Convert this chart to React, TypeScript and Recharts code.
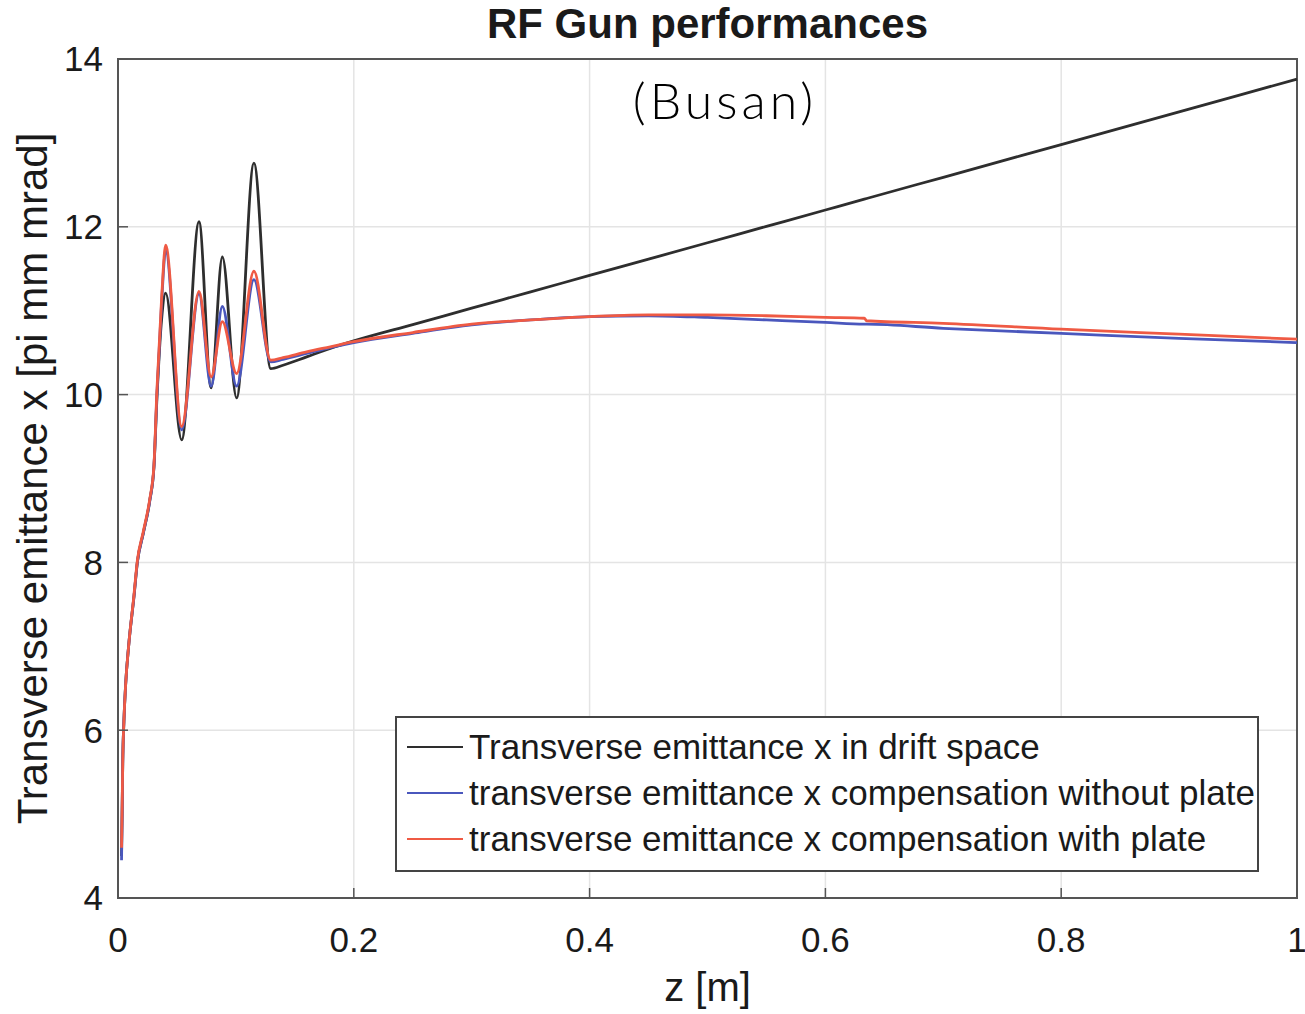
import React from "react";
import { LineChart, Line, XAxis, YAxis, CartesianGrid, ReferenceArea, Label } from "recharts";

const zValues = [0.003, 0.0035, 0.004, 0.005, 0.0065, 0.009, 0.0136, 0.0164, 0.0215, 0.027, 0.0305, 0.033, 0.037, 0.0404, 0.054, 0.0687, 0.079, 0.0885, 0.1006, 0.1153, 0.1295, 0.14, 0.16, 0.18, 0.2, 0.25, 0.3, 0.35, 0.4, 0.45, 0.5, 0.55, 0.6, 0.633, 0.635, 0.7, 0.8, 0.9, 1.0];
const driftSpace = [4.5, 5.0, 5.6, 6.1, 6.55, 7.0, 7.6, 8.0, 8.35, 8.74, 9.14, 9.95, 10.9, 11.21, 9.46, 12.06, 10.08, 11.64, 9.96, 12.76, 10.31, 10.35, 10.45, 10.55, 10.64, 10.835, 11.03, 11.225, 11.42, 11.615, 11.81, 12.005, 12.2, 12.329, 12.337, 12.59, 12.98, 13.37, 13.76];
const withoutPlate = [4.45, 5.0, 5.6, 6.1, 6.55, 7.0, 7.6, 8.0, 8.35, 8.74, 9.14, 10.0, 11.1, 11.72, 9.58, 11.2, 10.1, 11.05, 10.1, 11.37, 10.39, 10.42, 10.49, 10.56, 10.62, 10.73, 10.83, 10.89, 10.93, 10.94, 10.92, 10.89, 10.86, 10.84, 10.84, 10.79, 10.73, 10.67, 10.62];
const withPlate = [4.6, 5.05, 5.6, 6.1, 6.55, 7.0, 7.62, 8.02, 8.37, 8.76, 9.16, 10.05, 11.15, 11.78, 9.62, 11.23, 10.21, 10.87, 10.25, 11.47, 10.41, 10.44, 10.51, 10.57, 10.63, 10.74, 10.84, 10.89, 10.93, 10.95, 10.95, 10.94, 10.92, 10.91, 10.88, 10.85, 10.78, 10.72, 10.66];

const xTicks = [0, 0.2, 0.4, 0.6, 0.8, 1];
const yTicks = [4, 6, 8, 10, 12, 14];

const seriesNames = [
  "Transverse emittance x in drift space",
  "transverse emittance x compensation without plate",
  "transverse emittance x compensation with plate",
];
const seriesColors = ["#2e2e2e", "#4a57bd", "#ef5a44"];

const data = zValues.map((z, i) => ({
  z,
  drift: driftSpace[i],
  without: withoutPlate[i],
  with: withPlate[i],
}));

const FONT = "'Liberation Sans', Arial, Helvetica, sans-serif";

export default function App() {
  return (
    <div style={{ position: "absolute", left: 0, top: 0, width: 1305, height: 1014, background: "#fff", overflow: "hidden" }}>
      <LineChart
        width={1305}
        height={1014}
        data={data}
        margin={{ top: 59, right: 8, bottom: 56, left: 58 }}
      >
        <CartesianGrid stroke="#e4e4e4" strokeWidth={1.5} />
        <ReferenceArea x1={0} x2={1} y1={4} y2={14} fill="none" stroke="#555" strokeWidth={2} ifOverflow="visible" />
        <XAxis
          dataKey="z"
          type="number"
          domain={[0, 1]}
          ticks={xTicks}
          height={60}
          tickSize={-10}
          tickMargin={39}
          axisLine={{ stroke: "#555", strokeWidth: 2 }}
          tickLine={{ stroke: "#555", strokeWidth: 1.5 }}
          tick={{ fill: "#1a1a1a", fontSize: 35, fontFamily: FONT }}
          interval={0}
        >
          <Label value="z [m]" position="bottom" offset={15} style={{ fill: "#1a1a1a", fontSize: 40, fontFamily: FONT }} />
        </XAxis>
        <YAxis
          type="number"
          domain={[4, 14]}
          ticks={yTicks}
          width={60}
          tickSize={-10}
          tickMargin={25}
          axisLine={{ stroke: "#555", strokeWidth: 2 }}
          tickLine={{ stroke: "#555", strokeWidth: 1.5 }}
          tick={{ fill: "#1a1a1a", fontSize: 35, fontFamily: FONT }}
          interval={0}
        >
          <Label
            value="Transverse emittance x [pi mm mrad]"
            angle={-90}
            position="insideLeft"
            offset={-26}
            style={{ fill: "#1a1a1a", fontSize: 42, fontFamily: FONT, textAnchor: "middle" }}
          />
        </YAxis>
        <Line type="monotone" dataKey="drift" name={seriesNames[0]} stroke={seriesColors[0]} strokeWidth={2.8} dot={false} isAnimationActive={false} />
        <Line type="monotone" dataKey="without" name={seriesNames[1]} stroke={seriesColors[1]} strokeWidth={2.8} dot={false} isAnimationActive={false} />
        <Line type="monotone" dataKey="with" name={seriesNames[2]} stroke={seriesColors[2]} strokeWidth={2.8} dot={false} isAnimationActive={false} />
      </LineChart>
      <div
        style={{
          position: "absolute",
          left: 0,
          width: 1305,
          top: 0,
          textAlign: "center",
          paddingLeft: 110,
          boxSizing: "border-box",
          fontFamily: FONT,
          fontWeight: "bold",
          fontSize: 42,
          color: "#1a1a1a",
        }}
      >
        RF Gun performances
      </div>
      <div
        style={{
          position: "absolute",
          left: 600,
          top: 70,
          width: 250,
          textAlign: "center",
          fontFamily: "Lato, 'Open Sans', sans-serif",
          fontWeight: 300,
          fontSize: 50,
          letterSpacing: 4,
          color: "#000",
        }}
      >
        (Busan)
      </div>
      <div
        style={{
          position: "absolute",
          left: 395,
          top: 716,
          width: 864,
          border: "2px solid #444",
          background: "#fff",
          padding: "6px 0 8px 10px",
          boxSizing: "border-box",
          fontFamily: FONT,
          fontSize: 35,
          color: "#1a1a1a",
        }}
      >
        {seriesNames.map((name, i) => (
          <div key={i} style={{ display: "flex", alignItems: "center", height: 46 }}>
            <div style={{ width: 56, height: 0, borderTop: `2px solid ${seriesColors[i]}`, marginRight: 6 }} />
            <span style={{ whiteSpace: "nowrap" }}>{name}</span>
          </div>
        ))}
      </div>
    </div>
  );
}
